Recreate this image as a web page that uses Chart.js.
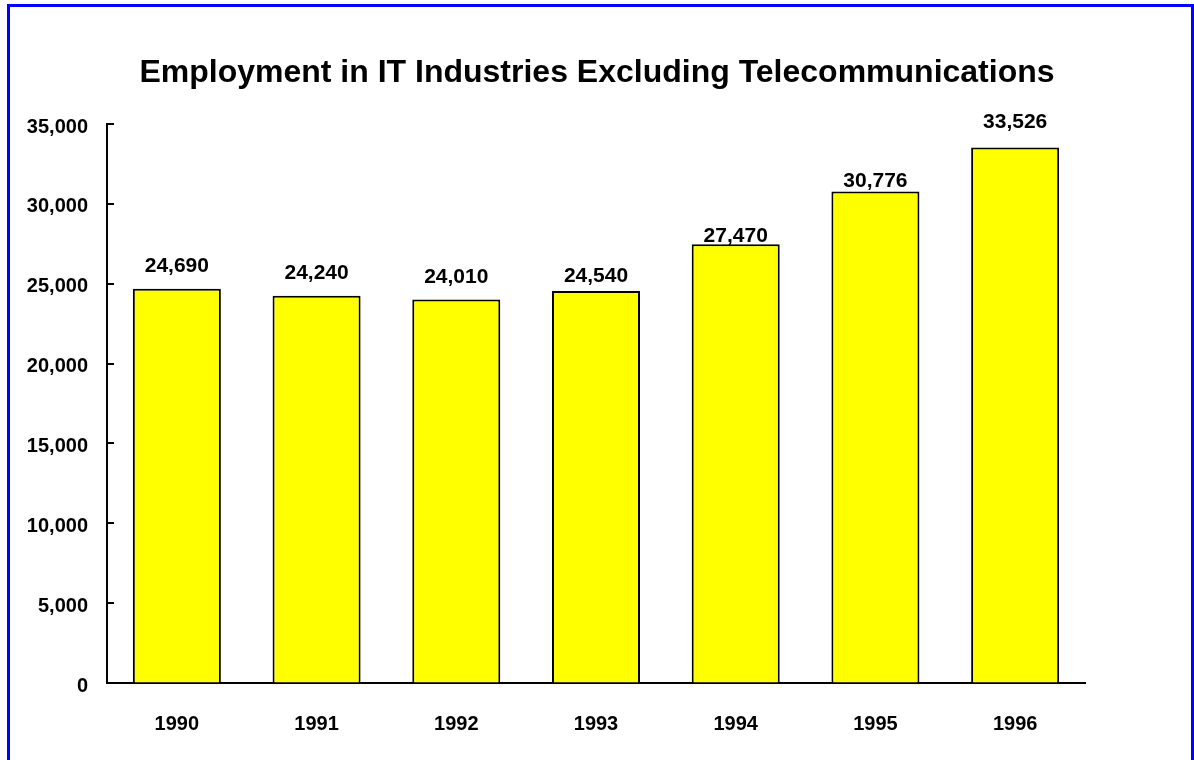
<!DOCTYPE html>
<html>
<head>
<meta charset="utf-8">
<title>Employment in IT Industries Excluding Telecommunications</title>
<script src="https://cdn.jsdelivr.net/npm/chart.js@4/dist/chart.umd.min.js"></script>
<style>
  html, body { margin: 0; padding: 0; background: #ffffff; overflow: hidden; }
  #frame {
    position: absolute; left: 7px; top: 4px; width: 1187px; height: 800px;
    box-sizing: border-box; border: 3px solid #0000ff;
  }
  #wrap { position: absolute; left: 0; top: 0; width: 1194px; height: 760px; }
</style>
</head>
<body>
<div id="frame"></div>
<div id="wrap"><canvas id="chart" width="1194" height="760"></canvas></div>
<script>
// Employment figures by year
const years = ['1990', '1991', '1992', '1993', '1994', '1995', '1996'];
const employment = [24690, 24240, 24010, 24540, 27470, 30776, 33526];
const yTicks = [0, 5000, 10000, 15000, 20000, 25000, 30000, 35000];

const FONT = 'Liberation Sans, Arial, Helvetica, sans-serif';
const fmt = v => Number(v).toLocaleString('en-US');

// Value labels above each bar (gap in px between label baseline and bar top)
const barLabels = {
  id: 'barLabels',
  afterDatasetsDraw(chart, args, opts) {
    const ctx = chart.ctx;
    const meta = chart.getDatasetMeta(0);
    ctx.save();
    ctx.font = 'bold 21px ' + FONT;
    ctx.fillStyle = '#000';
    ctx.textAlign = 'center';
    ctx.textBaseline = 'alphabetic';
    meta.data.forEach((bar, i) => {
      const gap = opts.gaps[i];
      ctx.fillText(fmt(employment[i]), bar.x, bar.y - gap);
    });
    ctx.restore();
  }
};

// Short tick marks on the inner side of the value axis
const innerTicks = {
  id: 'innerTicks',
  afterDraw(chart) {
    const y = chart.scales.y;
    const ctx = chart.ctx;
    ctx.save();
    ctx.strokeStyle = '#000';
    ctx.lineWidth = 2;
    yTicks.forEach(v => {
      const py = Math.round(y.getPixelForValue(v));
      ctx.beginPath();
      ctx.moveTo(y.right - 1, py);
      ctx.lineTo(y.right + 7, py);
      ctx.stroke();
    });
    ctx.restore();
  }
};

new Chart(document.getElementById('chart'), {
  type: 'bar',
  data: {
    labels: years,
    datasets: [{
      data: employment,
      backgroundColor: '#ffff00',
      borderColor: '#000000',
      borderWidth: 2,
      barPercentage: 0.63,
      categoryPercentage: 1.0
    }]
  },
  options: {
    responsive: false,
    animation: false,
    devicePixelRatio: 1,
    layout: { padding: { left: 0, right: 0, top: 0, bottom: 0 } },
    plugins: {
      legend: { display: false },
      tooltip: { enabled: false },
      barLabels: { gaps: [17, 17, 17, 9, 2, 4, 20] },
      title: {
        display: true,
        text: 'Employment in IT Industries Excluding Telecommunications',
        color: '#000',
        font: { family: FONT, size: 32, weight: 'bold', lineHeight: 1.2 },
        padding: { top: 54.4, bottom: 31.2 }
      }
    },
    scales: {
      x: {
        grid: { display: true, drawOnChartArea: false, drawTicks: false },
        border: { display: true, color: '#000', width: 2 },
        ticks: {
          color: '#000',
          padding: 29,
          font: { family: FONT, size: 20, weight: 'bold' }
        },
        afterFit(scale) { scale.height = 77; }
      },
      y: {
        min: 0,
        max: 35000,
        afterBuildTicks(scale) { scale.ticks = yTicks.map(v => ({ value: v })); },
        grid: { display: true, drawOnChartArea: false, drawTicks: false },
        border: { display: true, color: '#000', width: 2 },
        ticks: {
          color: '#000',
          padding: 19,
          labelOffset: 3,
          font: { family: FONT, size: 20, weight: 'bold' },
          callback: v => fmt(v)
        },
        afterFit(scale) { scale.width = 107; }
      },
      // empty right-hand margin so the title centres across the full width
      margin: {
        type: 'linear',
        position: 'right',
        display: true,
        grid: { display: false },
        border: { display: false },
        ticks: { display: false },
        afterFit(scale) { scale.width = 109; }
      }
    }
  },
  plugins: [barLabels, innerTicks]
});
</script>
</body>
</html>
